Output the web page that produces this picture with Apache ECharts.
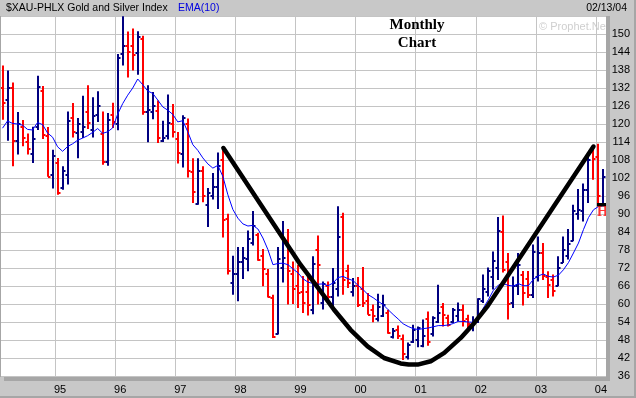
<!DOCTYPE html>
<html><head><meta charset="utf-8">
<script src="https://cdn.jsdelivr.net/npm/echarts@6/dist/echarts.min.js"></script>
<style>html,body{margin:0;padding:0;background:#c8c8c8;}#c{width:636px;height:398px;}</style>
</head><body><div id="c"></div>
<script>
// Monthly categories: Feb 1994 .. Feb 2004
const months = [];
for (let i = 0; i < 121; i++) { const t = 1994 * 12 + 1 + i; months.push(Math.floor(t / 12) + '-' + String(t % 12 + 1).padStart(2, '0')); }

const openV = [132,128,132,114.2,119,114,110,119,131,116,
103,107,98.7,103,122,117,117.5,124,118,123,
116.6,107.5,123,120,143.3,146,146,143.6,148.5,124,
124,124.4,114.5,116,120,115,110,120,104,93.5,
104.5,93,96,99,108,88.5,67,70,74,75,
80.3,83,76,70,62,50,72,80,70,66,
64,64,58,78,60.3,66,62.5,65,89,71,
64,66,65,61,58,55,56,57,49,51.5,
48.5,42.5,47.5,48,46,55,50,54,59,55.5,
54,56,58,55,52,54,61,64,69,72,
84,74,60.3,66,69.8,68.5,63,69,77,69,
68,66,73.7,76,81,90,91,98,111,109,
93.5];
const closeV = [127,132,114.3,120,115.4,111.6,115,132.4,116.5,102.5,
109.2,97,104.5,121,117.5,120,119,120.3,122.8,126,
107.5,121.4,120.8,142,146,144,143,148.9,124,124.6,
126,115.3,115.3,120.3,117.3,110.2,122,104.4,97.5,104.5,
96,97,98.9,106,88.1,71,70,74,75.3,81.7,
86,74.8,71.7,62.5,48.9,75,75.3,71,65,63.7,
60.3,59.8,73.4,73,66.8,62.5,67,82.3,68,67,
65.9,59.8,60.5,56.5,56.1,59,59.8,50.5,51,49.2,
43.5,46.5,51.4,52,49.2,47.5,55.3,57,56.4,53.1,
57.9,58,54.2,53.4,54,61.7,65,70.9,74.2,84.2,
71.4,60,66,73,63.7,63.1,77.5,77,69.5,66.5,
64.5,72,78,80,91,91.5,98,108,108.5,95.9,
102.3];
const lowV = [121.4,114.4,105.9,109.8,112.6,109.8,107,118,115,102.4,
98.5,96.4,98.1,99.8,115.5,108.6,115.3,118.3,115.5,120.7,
106.4,106.1,118.7,117.9,139.5,135.5,137.8,136.4,123.1,113.9,
121.6,113.7,114,114.8,115.5,106.8,105.5,102.2,93.7,93.1,
93.9,85.7,94.8,91.7,82.2,69.8,63.1,60.9,68.3,70.9,
79.5,74.4,65.9,62.2,48.7,49.8,67.2,59.8,60,58.7,
57,56.2,56.6,59.8,58.2,60.9,58.7,62.5,63.1,65.3,
62.5,59,59,56.4,53.9,54.2,55.7,50.1,48.5,48.3,
41.3,41.5,47,45.6,45.6,46.1,49.2,53.7,52.5,52.5,
53.7,54.2,52.5,51,50.9,53.7,60.3,62.5,64.8,68,
70.5,54.8,58.7,63,59.5,62,62,67.5,68,62,
62.5,65.9,73.7,74.8,80.9,88.1,87.5,93.7,101.4,93.1,
93.1];
const highV = [139.5,137.8,133.8,124,121.3,116.8,119.1,136.1,132.7,119,
111.4,108.7,105.9,124.2,127,122,129.4,132.9,128.9,130.9,
124.2,123.7,127.1,143.3,155.9,150.8,151.8,150.9,149.4,132.9,
130.7,127.8,121.1,129.8,126.7,117.3,122.9,121.8,108.6,108.6,
105.9,98.7,103.7,110.5,111.7,90.1,76.1,79,79,84.5,
91,83.7,78.3,71.7,63.1,79,87.7,85,74.2,73.1,
69.3,69.6,75.9,82.8,67.5,67.5,72,92.6,90.4,73.1,
68.7,69,72.3,63.7,59.8,63.4,63.1,58.1,52,52.8,
49.8,47.2,53.1,52.5,54.8,57.5,55.9,66.4,60.3,56.4,
58.7,60.5,59.8,56.4,55.9,61.9,69.8,72.2,77.5,89,
89.5,77,69.2,77,71,71,79.8,82.5,80.3,70.9,
69.8,75.9,82.5,85,93.1,98.3,100.2,110.5,112,113.4,
105];
const ema10 = [118.6,121.0,120.2,120.0,119.6,118.2,118.0,120.5,119.8,117.0,
115.6,112.4,110.9,112.5,113.4,114.6,115.3,116.1,117.2,118.5,
116.9,117.4,118.7,123.3,126.8,129.6,132.0,135.0,133.1,131.0,
130.2,128.0,125.7,124.6,123.2,120.7,121.1,117.4,113.1,111.2,
108.7,106.7,105.3,106.2,102.5,96.4,91.5,88.6,86.7,86.0,
86.2,85.0,82.0,78.1,73.1,73.5,73.6,73.1,71.7,70.4,
68.4,67.3,66.8,66.6,66.7,66.1,67.0,68.8,69.2,68.4,
67.8,66.2,64.8,63.1,62.1,60.9,59.8,58.1,56.5,55.0,
53.4,52.5,51.8,51.5,51.8,52.0,52.4,52.8,52.8,53.0,
53.5,54.2,54.2,54.0,53.9,55.5,58.6,61.4,64.5,66.3,
66.8,66.2,66.0,66.8,66.1,66.1,68.2,69.4,70.0,69.2,
69.0,69.6,71.4,73.8,77.0,80.3,84.8,88.8,91.4,92.5,
92.8];

// hand-drawn "cup" annotation (month position, index value)
const cupMonth = [44.1,59.5,63.5,66.2,69.5,72.9,76.2,79.5,81.1,82.9,85.5,88.2,91.5,94.2,96.9,99.5,118.0];
const cupValue = [112.0,73.1,64.3,58.1,51.4,45.9,42.0,40.2,39.8,39.8,40.9,43.7,48.7,53.7,59.4,65.9,112.5];

// handle marker at the right edge
const handleMonth = [118.7, 120.5];
const handleValue = [93.1, 93.1];
const handleLabelPos = [119.8, 90.6];

const yMin = 36, yMax = 156, yStep = 6, yLastLabel = 150;

const ohlc = months.map((m, i) => [i, openV[i], closeV[i], lowV[i], highV[i]]);

const chart = echarts.init(document.getElementById('c'), null, {renderer: 'canvas'});
const isJan = (idx, val) => String(val).endsWith('-01');
chart.setOption({
  animation: false,
  backgroundColor: '#c8c8c8',
  grid: {left: 0, top: 16, width: 606, height: 360, show: true, backgroundColor: '#ffffff', borderWidth: 0},
  xAxis: [{
    type: 'category', data: months, boundaryGap: true,
    axisLine: {show: false}, axisTick: {show: false},
    axisLabel: {interval: isJan, formatter: v => v.slice(2, 4), color: '#000', fontFamily: 'Liberation Sans', fontSize: 11, margin: 8, padding: [0, 0, 0, 5]},
    splitLine: {show: true, interval: isJan, lineStyle: {color: '#c4c4c4', width: 1}}
  }, {
    type: 'value', min: -0.5, max: 120.5, show: false
  }],
  yAxis: [{
    type: 'value', position: 'right', min: yMin, max: yMax, interval: yStep,
    axisLine: {show: false}, axisTick: {show: false},
    axisLabel: {formatter: v => (v > yLastLabel ? '' : String(v)), color: '#000', fontFamily: 'Liberation Sans', fontSize: 11, align: 'right', margin: 24},
    splitLine: {lineStyle: {color: '#c4c4c4', width: 1}}
  }],
  graphic: [
    {type: 'rect', shape: {x: 606, y: 16, width: 4, height: 365}, style: {fill: '#a6a6a6'}, z: 100},
    {type: 'rect', shape: {x: 4, y: 377, width: 606, height: 4}, style: {fill: '#a6a6a6'}, z: 100},
    {type: 'rect', shape: {x: 0, y: 16, width: 1, height: 361}, style: {fill: '#a6a6a6'}, z: 100},
    {type: 'rect', shape: {x: 634, y: 0, width: 2, height: 398}, style: {fill: '#a6a6a6'}, z: 100},
    {type: 'rect', shape: {x: 0, y: 396, width: 636, height: 2}, style: {fill: '#a6a6a6'}, z: 100},
    {type: 'text', x: 6, y: 8, style: {text: '$XAU-PHLX Gold and Silver Index', fill: '#000', font: '10.5px "Liberation Sans"', textVerticalAlign: 'middle'}, z: 100},
    {type: 'text', x: 178, y: 8, style: {text: 'EMA(10)', fill: '#0000e0', font: '10.5px "Liberation Sans"', textVerticalAlign: 'middle'}, z: 100},
    {type: 'text', x: 627, y: 8, style: {text: '02/13/04', fill: '#000', font: '10.5px "Liberation Sans"', textAlign: 'right', textVerticalAlign: 'middle'}, z: 100},
    {type: 'text', x: 417, y: 25, style: {text: 'Monthly', fill: '#000', font: 'bold 15px "Liberation Serif"', textAlign: 'center', textVerticalAlign: 'middle'}, z: 100},
    {type: 'text', x: 417, y: 43, style: {text: 'Chart', fill: '#000', font: 'bold 15px "Liberation Serif"', textAlign: 'center', textVerticalAlign: 'middle'}, z: 100},
    {type: 'text', x: 539, y: 27, style: {text: '\u00a9 Prophet.Net', fill: '#cfcfcf', font: '11px "Liberation Sans"', textVerticalAlign: 'middle'}, z: 1}
  ],
  series: [{
    type: 'custom', xAxisIndex: 0, yAxisIndex: 0, data: ohlc, z: 3,
    renderItem: function (params, api) {
      const i = api.value(0), o = api.value(1), c = api.value(2), l = api.value(3), h = api.value(4);
      const pH = api.coord([i, h]), pL = api.coord([i, l]), pO = api.coord([i, o]), pC = api.coord([i, c]);
      const x = Math.round(pH[0]);
      const color = c >= o ? '#000080' : '#ff0000';
      const st = {stroke: color, lineWidth: 2, fill: null};
      const yo = Math.round(pO[1]), yc = Math.round(pC[1]);
      return {type: 'group', children: [
        {type: 'line', shape: {x1: x, y1: pH[1], x2: x, y2: pL[1]}, style: st},
        {type: 'line', shape: {x1: x - 2.5, y1: yo, x2: x, y2: yo}, style: st},
        {type: 'line', shape: {x1: x, y1: yc, x2: x + 2.5, y2: yc}, style: st}
      ]};
    }
  }, {
    type: 'line', xAxisIndex: 0, yAxisIndex: 0, data: ema10, showSymbol: false, z: 4,
    lineStyle: {color: '#0000ff', width: 1}
  }, {
    type: 'line', xAxisIndex: 1, yAxisIndex: 0, data: cupMonth.map((m, i) => [m, cupValue[i]]),
    showSymbol: false, smooth: false, z: 5,
    lineStyle: {color: '#000', width: 4.5, cap: 'round', join: 'round'}
  }, {
    type: 'line', xAxisIndex: 1, yAxisIndex: 0, data: handleMonth.map((m, i) => [m, handleValue[i]]),
    showSymbol: false, z: 6, lineStyle: {color: '#000', width: 3.5}
  }, {
    type: 'scatter', xAxisIndex: 1, yAxisIndex: 0, data: [handleLabelPos], symbolSize: 1, itemStyle: {color: 'rgba(0,0,0,0)'}, z: 6,
    label: {show: true, position: 'inside', formatter: 'H', color: '#ff0000', fontFamily: 'Liberation Serif', fontWeight: 'bold', fontSize: 14}
  }]
});
</script></body></html>
